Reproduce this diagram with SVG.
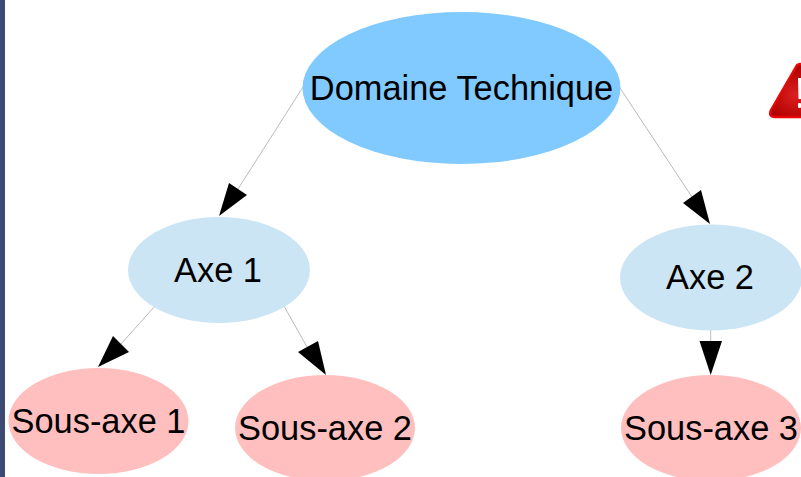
<svg xmlns="http://www.w3.org/2000/svg" width="801" height="477" viewBox="0 0 801 477">
<defs>
<radialGradient id="warn" gradientUnits="userSpaceOnUse" cx="795" cy="95" r="28"><stop offset="0" stop-color="#dc2020"/><stop offset="1" stop-color="#b00000"/></radialGradient>
</defs>
<style>
.t{font-family:"Liberation Sans",Arial,sans-serif;font-size:34.4px;fill:#000;text-anchor:middle}
.main{fill:#80caff}.axe{fill:#cce5f5}.sub{fill:#ffbfbf}
.edge{stroke:#a8a8a8;stroke-width:0.8;fill:none}
.head{fill:#000}
</style>
<rect width="801" height="477" fill="#fff"/>
<rect x="0" y="0" width="5" height="477" fill="#3d4a73"/>
<g id="warning">
<path d="M797 65 Q801 63 804 65 L840 117 H775 Q768 117 771 110 Z" fill="url(#warn)" stroke="#e80808" stroke-width="2.4" stroke-linejoin="round"/>
<path d="M798 78 H801 V99 H798.5 Z" fill="#fff"/>
<rect x="798" y="103" width="3" height="5" rx="1" fill="#fff"/>
</g>
<g id="connectors">
<path class="edge" d="M303 87 L238 189"/><path class="head" d="M219 216 L229 183 L247 195 Z"/>
<path class="edge" d="M620 88 L692 197"/><path class="head" d="M710 224 L683 203 L701 190 Z"/>
<path class="edge" d="M155 306 L121 344"/><path class="head" d="M98 367 L113 336 L129 352 Z"/>
<path class="edge" d="M284 306 L307 347"/><path class="head" d="M326 375 L298 352 L318 341 Z"/>
<path class="edge" d="M710.7 330 V341"/><path class="head" d="M710.7 375 L699.5 341 H722 Z"/>
</g>
<g id="domaine"><ellipse class="main" cx="461.5" cy="88" rx="159" ry="76"/><text class="t" x="461.5" y="100">Domaine Technique</text></g>
<g id="axe1"><ellipse class="axe" cx="219" cy="270" rx="91" ry="53"/><text class="t" x="218" y="282">Axe 1</text></g>
<g id="axe2"><ellipse class="axe" cx="711" cy="277.5" rx="91" ry="53"/><text class="t" x="710" y="289">Axe 2</text></g>
<g id="sousaxe1"><ellipse class="sub" cx="98.5" cy="421" rx="90" ry="53"/><text class="t" x="98.5" y="433">Sous-axe 1</text></g>
<g id="sousaxe2"><ellipse class="sub" cx="325" cy="428" rx="90" ry="53"/><text class="t" x="325" y="440">Sous-axe 2</text></g>
<g id="sousaxe3"><ellipse class="sub" cx="711" cy="428" rx="90" ry="53"/><text class="t" x="711" y="440">Sous-axe 3</text></g>
</svg>
